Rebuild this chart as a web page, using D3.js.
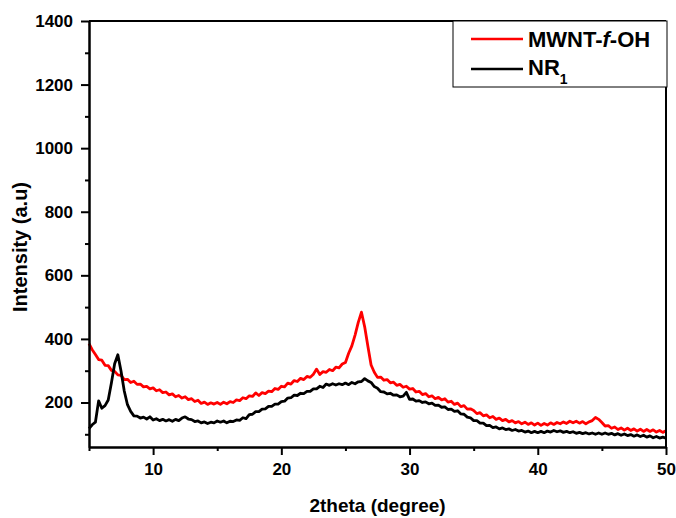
<!DOCTYPE html>
<html>
<head>
<meta charset="utf-8">
<script src="https://cdn.jsdelivr.net/npm/d3@7"></script>
<style>
    body { margin: 0; background: #fff; }
    svg text { font-family: Arial, "Liberation Sans", sans-serif; font-weight: bold; fill: #000; }
</style>
</head>
<body>
<svg width="676" height="518"></svg>
<script>
// scan starts at 5 degrees, one reading every 0.25 degree
var thetaStart = 5, thetaStep = 0.25;

var mwntOH = [
    385,366,351,335,333,317,316,301,298,287,
    285,272,273,263,267,257,258,249,251,243,
    246,237,240,231,233,224,227,218,222,214,
    218,209,212,203,207,197,201,194,199,195,
    200,194,201,196,203,200,208,206,215,212,
    221,219,230,222,231,228,236,234,244,241,
    251,249,261,258,269,266,276,272,282,279,
    289,305,288,297,295,304,300,311,309,321,
    326,355,378,412,452,484,438,377,318,295,
    279,280,270,272,262,264,254,257,248,251,
    242,244,233,235,225,228,218,221,212,216,
    208,212,201,204,194,198,187,190,179,180,
    175,165,168,158,161,152,156,147,151,143,
    147,139,143,136,140,133,138,131,136,129,
    135,128,134,129,136,131,137,133,139,134,
    141,136,141,135,140,133,139,143,153,147,
    137,126,127,119,123,115,120,113,119,112,
    117,110,116,109,115,109,114,107,112,106,
    111
];

var nr1 = [
    118,130,138,205,182,190,208,262,322,350,
    298,236,193,172,158,157,151,154,148,155,
    145,149,143,147,142,146,141,147,143,151,
    155,148,146,140,142,136,139,134,138,136,
    142,138,142,136,141,140,145,144,152,149,
    162,163,171,171,179,180,188,188,195,195,
    203,204,214,215,223,222,229,228,235,235,
    243,243,251,247,258,254,259,255,259,256,
    261,256,263,259,265,266,275,268,263,250,
    245,234,233,227,229,223,224,218,220,232,
    210,211,204,206,200,202,196,198,191,192,
    185,186,178,179,172,174,164,163,154,152,
    143,143,135,135,127,128,121,123,117,120,
    115,117,112,115,110,112,107,110,105,109,
    105,109,105,110,107,112,108,111,106,109,
    105,108,103,106,102,105,101,104,100,104,
    100,104,100,103,98,102,97,101,96,99,
    94,98,93,97,91,95,89,93,88,91,
    88
];

var xTicks = [10, 20, 30, 40, 50];
var xMinorTicks = [5, 15, 25, 35, 45];
var yTicks = [200, 400, 600, 800, 1000, 1200, 1400];
var yMinorTicks = [100, 300, 500, 700, 900, 1100, 1300];

var svg = d3.select("svg"),
    margin = {top: 21, right: 10, bottom: 71, left: 89},
    width = +svg.attr("width") - margin.left - margin.right,
    height = +svg.attr("height") - margin.top - margin.bottom,
    g = svg.append("g").attr("transform", "translate(" + margin.left + "," + margin.top + ")");

var x = d3.scaleLinear().domain([5, 50]).range([0, width]);
var y = d3.scaleLinear().domain([60, 1400]).range([height, 0]);

function toPoints(values) {
    return values.map(function(v, i) { return {t: thetaStart + i * thetaStep, v: v}; });
}

var series = [
    {name: "MWNT-f-OH", color: "#ff0000", values: toPoints(mwntOH)},
    {name: "NR1", color: "#000000", values: toPoints(nr1)}
];

var line = d3.line()
    .x(function(d) { return x(d.t); })
    .y(function(d) { return y(d.v); });

g.append("g")
    .selectAll("path")
    .data(series)
    .enter().append("path")
    .attr("fill", "none")
    .attr("stroke", function(d) { return d.color; })
    .attr("stroke-width", 2.8)
    .attr("stroke-linejoin", "round")
    .attr("d", function(d) { return line(d.values); });

// axes
var xAxis = g.append("g")
    .attr("transform", "translate(0," + height + ")")
    .call(d3.axisBottom(x).tickValues(xTicks).tickSize(8).tickPadding(8).tickSizeOuter(0).tickFormat(d3.format("d")));
var xMinor = g.append("g")
    .attr("transform", "translate(0," + height + ")")
    .call(d3.axisBottom(x).tickValues(xMinorTicks).tickSize(4).tickFormat("").tickSizeOuter(0));

var yAxis = g.append("g")
    .call(d3.axisLeft(y).tickValues(yTicks).tickSize(8).tickPadding(8).tickSizeOuter(0).tickFormat(d3.format("d")));
var yMinor = g.append("g")
    .call(d3.axisLeft(y).tickValues(yMinorTicks).tickSize(4).tickFormat("").tickSizeOuter(0));

[xAxis, xMinor, yAxis, yMinor].forEach(function(a) {
    a.selectAll("line").attr("stroke", "#000").attr("stroke-width", 2);
    a.select(".domain").attr("stroke", "#000").attr("stroke-width", 2);
    a.selectAll("text").style("font-size", "17px").style("font-family", null);
});

// top and right frame
g.append("line").attr("x1", 0).attr("x2", width).attr("y1", 0).attr("y2", 0)
    .attr("stroke", "#000").attr("stroke-width", 2);
g.append("line").attr("x1", width).attr("x2", width).attr("y1", 0).attr("y2", height)
    .attr("stroke", "#000").attr("stroke-width", 2);

// axis titles
svg.append("text")
    .attr("transform", "translate(27," + (margin.top + 226) + ")rotate(-90)")
    .attr("text-anchor", "middle")
    .style("font-size", "20px")
    .text("Intensity (a.u)");

svg.append("text")
    .attr("x", margin.left + width / 2)
    .attr("y", 512)
    .attr("text-anchor", "middle")
    .style("font-size", "19px")
    .text("2theta (degree)");

// legend
var legend = svg.append("g").attr("transform", "translate(453,21)");
legend.append("rect")
    .attr("width", 214).attr("height", 66)
    .attr("fill", "#fff").attr("stroke", "#000").attr("stroke-width", 1);

var item = legend.selectAll("g.item")
    .data(series)
    .enter().append("g")
    .attr("class", "item")
    .attr("transform", function(d, i) { return "translate(0," + (18 + i * 30) + ")"; });

item.append("line")
    .attr("x1", 18).attr("x2", 70)
    .attr("stroke", function(d) { return d.color; })
    .attr("stroke-width", 2.5);

var t0 = legend.append("text").attr("x", 75).attr("y", 26).style("font-size", "22px");
t0.append("tspan").text("MWNT-");
t0.append("tspan").style("font-style", "italic").text("f");
t0.append("tspan").text("-OH");

var t1 = legend.append("text").attr("x", 75).attr("y", 54).style("font-size", "22px");
t1.append("tspan").text("NR");
t1.append("tspan").attr("dy", 9).style("font-size", "14px").text("1");
</script>
</body>
</html>
